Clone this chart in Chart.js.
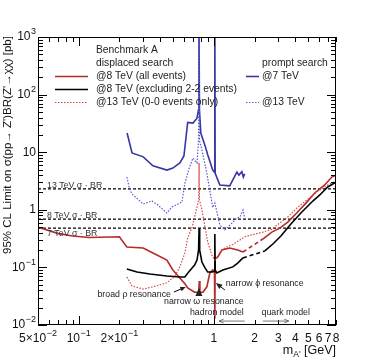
<!DOCTYPE html>
<html>
<head>
<meta charset="utf-8">
<script src="https://cdn.jsdelivr.net/npm/chart.js@4.4.1/dist/chart.umd.min.js"></script>
<style>
  html, body { margin: 0; padding: 0; background: #fff; }
  canvas { display: block; }
</style>
</head>
<body>
<canvas id="chart" width="374" height="363"></canvas>
<script>
// displaced search @8 TeV (all events)
const mass8All = [0.05, 0.07, 0.09, 0.12, 0.20, 0.227, 0.30, 0.354, 0.449, 0.497, 0.61, 0.64, 0.72,
  0.772, 0.78, 0.788, 0.83, 0.887, 0.933, 0.98, 1.010, 1.016, 1.022, 1.07, 1.145, 1.31, 1.50, 1.64,
  2.30, 2.68, 3.07, 3.52, 4.1, 4.87, 5.57, 6.6, 7.45, 8.0];
const limit8All = [0.50, 0.39, 0.35, 0.33, 0.34, 0.226, 0.217, 0.178, 0.134, 0.090, 0.052, 0.044, 0.037,
  0.037, 0.058, 0.037, 0.037, 0.046, 0.080, 0.090, 0.088, 0.013, 0.14, 0.152, 0.20, 0.217, 0.20, 0.185,
  0.311, 0.41, 0.48, 0.61, 0.88, 1.36, 1.96, 2.7, 3.7, 4.0];

// displaced search @8 TeV (excluding 2-2 events)
const mass8Excl = [0.227, 0.27, 0.336, 0.449, 0.56, 0.61, 0.66, 0.72, 0.75, 0.77, 0.777, 0.785, 0.815,
  0.86, 0.90, 0.966, 1.010, 1.016, 1.022, 1.05, 1.165, 1.38, 1.50, 1.64,
  2.38, 2.73, 3.13, 3.71, 4.4, 4.87, 5.39, 6.07, 6.95, 8.0];
const limit8Excl = [0.094, 0.083, 0.077, 0.071, 0.068, 0.068, 0.087, 0.110, 0.134, 0.20, 0.48, 0.20, 0.124,
  0.098, 0.083, 0.083, 0.085, 0.38, 0.09, 0.080, 0.090, 0.102, 0.119, 0.146,
  0.193, 0.255, 0.351, 0.566, 0.88, 1.12, 1.42, 1.81, 2.49, 3.04];

// displaced search @13 TeV (0-0 events only)
const mass13Disp = [0.227, 0.248, 0.30, 0.354, 0.449, 0.515, 0.56, 0.61, 0.64, 0.69, 0.75, 0.772, 0.777,
  0.782, 0.815, 0.86, 0.90, 0.966, 1.016, 1.07, 1.145, 1.25, 1.38, 1.56, 1.69,
  2.30, 2.68, 3.07, 3.52, 4.1, 4.87, 5.77, 6.95, 8.0];
const limit13Disp = [0.068, 0.0475, 0.042, 0.046, 0.054, 0.071, 0.102, 0.178, 0.324, 0.50, 1.12, 1.5, 6.5,
  1.5, 1.0, 0.50, 0.276, 0.164, 0.134, 0.158, 0.20, 0.226, 0.25, 0.30, 0.34,
  0.41, 0.46, 0.59, 0.75, 1.07, 1.48, 2.04, 2.7, 3.16];

// prompt search @7 TeV
const mass7Prompt = [0.228, 0.248, 0.30, 0.354, 0.449, 0.497, 0.56, 0.60, 0.64, 0.70, 0.75, 0.768, 0.775,
  0.782, 0.80, 0.86, 0.90, 0.98, 1.010, 1.016, 1.022, 1.107, 1.31, 1.38, 1.48, 1.53, 1.61, 1.65, 1.69];
const limit7Prompt = [21.5, 9.7, 8.3, 5.8, 4.9, 5.3, 6.5, 8.6, 33, 32, 39, 54, 3000,
  54, 21.5, 13, 9, 4.9, 4.5, 3000, 4.3, 2.7, 2.6, 3.3, 4.5, 4.0, 4.6, 3.7, 4.2];

// prompt search @13 TeV
const mass13Prompt = [0.227, 0.239, 0.252, 0.30, 0.348, 0.385, 0.449, 0.489, 0.58, 0.61, 0.66, 0.70, 0.75,
  0.770, 0.775, 0.782, 0.815, 0.887, 0.98, 1.016, 1.107, 1.205, 1.27, 1.38, 1.48, 1.56, 1.64, 1.69];
const limit13Prompt = [3.7, 2.2, 1.81, 1.26, 1.42, 1.21, 0.88, 1.12, 1.36, 2.9, 5.5, 7.9, 6.5,
  16, 3000, 16, 11, 4.3, 1.1, 1.31, 0.545, 0.446, 0.50, 0.61, 0.72, 0.75, 0.99, 0.72];

// theory sigma x BR reference lines
const sigmaBrLabels = ['13 TeV σ · BR', '8 TeV σ · BR', '7 TeV σ · BR'];
const sigmaBrValues = [2.3, 0.69, 0.48];

const xMin = 0.05, xMax = 8;
const yMin = 0.01, yMax = 1000;
const xTickValues = [0.05, 0.1, 0.2, 1, 2, 3, 4, 5, 6, 7, 8];
const xTickLabels = [['5×10', '−2'], ['10', '−1'], ['2×10', '−1'], ['1'], ['2'], ['3'], ['4'], ['5'], ['6'], ['7'], ['8']];
const yTickValues = [0.01, 0.1, 1, 10, 100, 1000];
const yTickLabels = [['10', '−2'], ['10', '−1'], ['1'], ['10'], ['10', '2'], ['10', '3']];

const FONT = '"Liberation Sans", Arial, Helvetica, sans-serif';
const RED = '#b52a2a';
const RED_LIGHT = '#cf4a4a';
const BLUE = '#3636a6';
const BLUE_LIGHT = '#5a5ad0';

function points(xs, ys) {
  return xs.map((x, i) => ({ x: x, y: ys[i] }));
}

// segments crossing the hadron/quark model gap are drawn dashed
function gapDash(ctx) {
  return (ctx.p0.parsed.x < 1.8 && ctx.p1.parsed.x > 2.0) ? [4, 3] : undefined;
}

function minorTicks(lo, hi) {
  const out = [];
  for (let d = 0.001; d <= 1000; d *= 10) {
    for (let m = 1; m <= 9; m++) {
      const v = +(m * d).toPrecision(3);
      if (v >= lo - 1e-9 && v <= hi + 1e-9) out.push({ v: v, major: m === 1 });
    }
  }
  return out;
}

function drawPow(ctx, parts, x, y, align, size) {
  const base = parts[0], exp = parts[1];
  const sup = Math.round(size * 0.72);
  ctx.font = size + 'px ' + FONT;
  const wb = ctx.measureText(base).width;
  let we = 0;
  if (exp) { ctx.font = sup + 'px ' + FONT; we = ctx.measureText(exp).width + 0.5; }
  const total = wb + we;
  const x0 = align === 'right' ? x - total : (align === 'center' ? x - total / 2 : x);
  ctx.textAlign = 'left';
  ctx.textBaseline = 'middle';
  ctx.font = size + 'px ' + FONT;
  ctx.fillText(base, x0, y);
  if (exp) {
    ctx.font = sup + 'px ' + FONT;
    ctx.fillText(exp, x0 + wb + 0.5, y - size * 0.42);
  }
}

function drawArrow(ctx, x1, y1, x2, y2, head, filled) {
  const a = Math.atan2(y2 - y1, x2 - x1);
  ctx.beginPath();
  ctx.moveTo(x1, y1);
  ctx.lineTo(filled ? x2 - Math.cos(a) * head * 0.8 : x2, filled ? y2 - Math.sin(a) * head * 0.8 : y2);
  ctx.stroke();
  ctx.beginPath();
  ctx.moveTo(x2, y2);
  ctx.lineTo(x2 - head * Math.cos(a - 0.4), y2 - head * Math.sin(a - 0.4));
  if (filled) {
    ctx.lineTo(x2 - head * Math.cos(a + 0.4), y2 - head * Math.sin(a + 0.4));
    ctx.closePath();
    ctx.fill();
  } else {
    ctx.moveTo(x2, y2);
    ctx.lineTo(x2 - head * Math.cos(a + 0.4), y2 - head * Math.sin(a + 0.4));
    ctx.stroke();
  }
}

const framePlugin = {
  id: 'frame',
  afterDraw(chart) {
    const ctx = chart.ctx;
    const area = chart.chartArea;
    const xs = chart.scales.x, ys = chart.scales.y;
    const px = v => xs.getPixelForValue(v);
    const py = v => ys.getPixelForValue(v);
    ctx.save();
    ctx.strokeStyle = '#000';
    ctx.fillStyle = '#000';
    ctx.lineWidth = 1;

    // frame
    ctx.strokeRect(area.left + 0.5, area.top + 0.5, area.right - area.left - 1, area.bottom - area.top - 1);

    // ticks on all four sides, pointing inward
    ctx.beginPath();
    minorTicks(xMin, xMax).forEach(t => {
      const x = Math.round(px(t.v)) + 0.5;
      const len = t.major ? 9 : 5;
      ctx.moveTo(x, area.bottom); ctx.lineTo(x, area.bottom - len);
      ctx.moveTo(x, area.top); ctx.lineTo(x, area.top + len);
    });
    minorTicks(yMin, yMax).forEach(t => {
      const y = Math.round(py(t.v)) + 0.5;
      const len = t.major ? 9 : 5;
      ctx.moveTo(area.left, y); ctx.lineTo(area.left + len, y);
      ctx.moveTo(area.right, y); ctx.lineTo(area.right - len, y);
    });
    ctx.stroke();

    // tick labels
    ctx.fillStyle = '#111';
    xTickValues.forEach((v, i) => drawPow(ctx, xTickLabels[i], px(v), area.bottom + 14, 'center', 12));
    yTickValues.forEach((v, i) => drawPow(ctx, yTickLabels[i], area.left - 2, py(v), 'right', 12));

    // x title: m_A' [GeV]
    ctx.textBaseline = 'middle';
    ctx.textAlign = 'left';
    ctx.font = '12.5px ' + FONT;
    const wM = ctx.measureText('m').width;
    const wG = ctx.measureText(' [GeV]').width;
    ctx.font = '8.5px ' + FONT;
    const wA = ctx.measureText("A'").width;
    let tx = area.right - (wM + wA + wG);
    const ty = area.bottom + 26;
    ctx.font = '12.5px ' + FONT;
    ctx.fillText('m', tx, ty);
    ctx.font = '8.5px ' + FONT;
    ctx.fillText("A'", tx + wM, ty + 4);
    ctx.font = '12.5px ' + FONT;
    ctx.fillText(' [GeV]', tx + wM + wA, ty);

    // y title
    ctx.save();
    ctx.translate(8, 145);
    ctx.rotate(-Math.PI / 2);
    ctx.textAlign = 'center';
    ctx.textBaseline = 'middle';
    ctx.font = '11.5px ' + FONT;
    ctx.fillText("95% CL Limit on σ(pp→ Z')BR(Z'→χχ) [pb]", 0, 0);
    ctx.restore();

    // sigma x BR labels
    ctx.fillStyle = '#333';
    ctx.font = '8.8px ' + FONT;
    ctx.textAlign = 'left';
    sigmaBrLabels.forEach((label, i) => {
      const y = py(sigmaBrValues[i]);
      if (i < 2) {
        ctx.textBaseline = 'alphabetic';
        ctx.fillText(label, px(0.0583), y - 1);
      } else {
        ctx.textBaseline = 'top';
        ctx.fillText(label, px(0.0583), y + 1);
      }
    });

    // legend
    const L = area.left, T = area.top;
    ctx.fillStyle = '#222';
    ctx.font = '10.3px ' + FONT;
    ctx.textBaseline = 'middle';
    ctx.fillText('Benchmark A', L + 58, T + 13);
    ctx.fillText('displaced search', L + 58, T + 26);
    ctx.fillText('prompt search', L + 224, T + 26);
    const legendRows = [
      { text: '@8 TeV (all events)', color: RED, dash: [], x: 17, w: 33, tx: 58, row: 39 },
      { text: '@8 TeV (excluding 2-2 events)', color: '#000', dash: [], x: 17, w: 33, tx: 58, row: 52 },
      { text: '@13 TeV (0-0 events only)', color: RED_LIGHT, dash: [1.5, 1.5], x: 17, w: 33, tx: 58, row: 65 },
      { text: '@7 TeV', color: BLUE, dash: [], x: 208, w: 13, tx: 224, row: 39 },
      { text: '@13 TeV', color: BLUE_LIGHT, dash: [1.5, 1.5], x: 208, w: 13, tx: 224, row: 65 }
    ];
    legendRows.forEach(r => {
      ctx.save();
      ctx.strokeStyle = r.color;
      ctx.lineWidth = r.dash.length ? 1.2 : 1.6;
      ctx.setLineDash(r.dash);
      ctx.beginPath();
      ctx.moveTo(L + r.x, T + r.row + 0.5);
      ctx.lineTo(L + r.x + r.w, T + r.row + 0.5);
      ctx.stroke();
      ctx.restore();
      ctx.fillText(r.text, L + r.tx, T + r.row);
    });

    // resonance annotations
    ctx.fillStyle = '#222';
    ctx.strokeStyle = '#000';
    ctx.font = '8.8px ' + FONT;
    ctx.textBaseline = 'middle';
    ctx.textAlign = 'right';
    ctx.fillText('broad ρ resonance', px(0.481), py(0.0332));
    drawArrow(ctx, px(0.506), py(0.0374), px(0.62), py(0.0457), 6, true);
    ctx.textAlign = 'center';
    ctx.fillText('narrow ω resonance', px(0.843), py(0.0251));
    ctx.beginPath();
    ctx.moveTo(px(0.775), py(0.0439));
    ctx.lineTo(px(0.775) - 3.5, py(0.0319));
    ctx.lineTo(px(0.775) + 3.5, py(0.0319));
    ctx.closePath();
    ctx.fill();
    ctx.textAlign = 'left';
    ctx.fillText('narrow ϕ resonance', px(1.225), py(0.0515));
    drawArrow(ctx, px(1.205), py(0.0406), px(1.034), py(0.0536), 7, true);

    // model regions
    ctx.textAlign = 'center';
    ctx.fillText('hadron model', px(1.052), py(0.0162));
    ctx.fillText('quark model', px(3.40), py(0.0162));
    ctx.strokeStyle = '#555';
    ctx.lineWidth = 0.8;
    drawArrow(ctx, px(1.69), py(0.0117), px(1.09), py(0.0117), 5, false);
    drawArrow(ctx, px(2.30), py(0.0117), px(3.58), py(0.0117), 5, false);

    ctx.restore();
  }
};

const lineDefaults = { pointRadius: 0, tension: 0, fill: false };

const datasets = [
  Object.assign({ label: '@13 TeV prompt', data: points(mass13Prompt, limit13Prompt),
    borderColor: BLUE_LIGHT, borderWidth: 1.2, borderDash: [1.5, 1.5] }, lineDefaults),
  Object.assign({ label: '@7 TeV prompt', data: points(mass7Prompt, limit7Prompt),
    borderColor: BLUE, borderWidth: 1.6 }, lineDefaults),
  Object.assign({ label: '@13 TeV (0-0 events only)', data: points(mass13Disp, limit13Disp),
    borderColor: RED_LIGHT, borderWidth: 1.2, borderDash: [1.5, 1.5] }, lineDefaults),
  Object.assign({ label: '@8 TeV (excluding 2-2 events)', data: points(mass8Excl, limit8Excl),
    borderColor: '#000', borderWidth: 1.6, segment: { borderDash: gapDash } }, lineDefaults),
  Object.assign({ label: '@8 TeV (all events)', data: points(mass8All, limit8All),
    borderColor: RED, borderWidth: 1.6, segment: { borderDash: gapDash } }, lineDefaults)
];
sigmaBrValues.forEach((v, i) => {
  datasets.push(Object.assign({ label: sigmaBrLabels[i], data: [{ x: xMin, y: v }, { x: xMax, y: v }],
    borderColor: '#000', borderWidth: 1.2, borderDash: [3, 2] }, lineDefaults));
});

new Chart(document.getElementById('chart'), {
  type: 'line',
  data: { datasets: datasets },
  options: {
    responsive: false,
    animation: false,
    devicePixelRatio: 1,
    layout: { padding: { top: 37, right: 38, left: 0, bottom: 0 } },
    scales: {
      x: {
        type: 'logarithmic', min: xMin, max: xMax,
        grid: { display: false, drawTicks: false },
        border: { display: false },
        ticks: { display: false },
        afterFit: s => { s.height = 38; }
      },
      y: {
        type: 'logarithmic', min: yMin, max: yMax,
        grid: { display: false, drawTicks: false },
        border: { display: false },
        ticks: { display: false },
        afterFit: s => { s.width = 38; }
      }
    },
    plugins: { legend: { display: false }, tooltip: { enabled: false } }
  },
  plugins: [framePlugin]
});
</script>
</body>
</html>
